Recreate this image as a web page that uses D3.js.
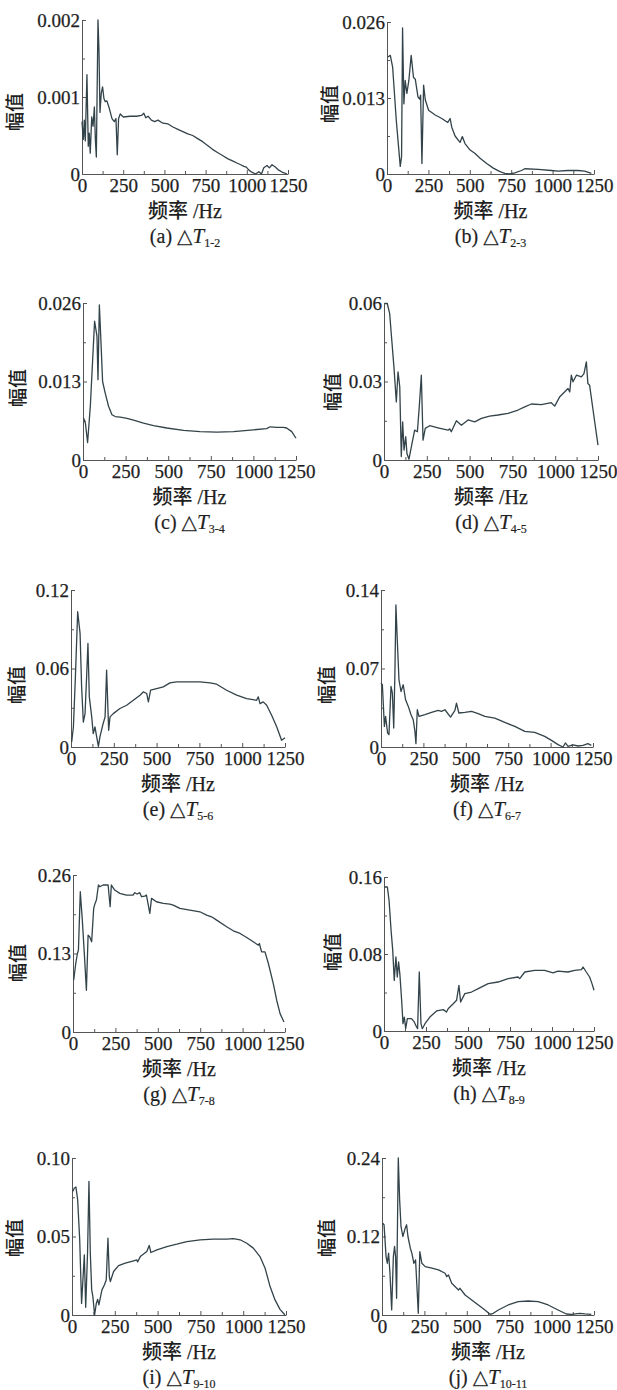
<!DOCTYPE html>
<html>
<head>
<meta charset="utf-8">
<script src="https://cdn.jsdelivr.net/npm/d3@7"></script>
<style>
  body { margin: 0; background: #fff; }
  svg { display: block; }
</style>
</head>
<body>
<svg id="fig" width="617" height="1390"></svg>
<script>
// Frequency axis ticks shared by every panel (Hz)
const X_TICKS = [0, 250, 500, 750, 1000, 1250];
const X_MINOR = [125, 375, 625, 875, 1125];

// Amplitude spectra of the temperature differences, [frequency Hz, amplitude]
const specT1_2 = [[0,0.00068],[8,0.00045],[14,0.0007],[20,0.00043],[30,0.00129],[38,0.00036],[44,0.00053],[50,0.00027],[59,0.00074],[67,0.00062],[75,0.00087],[81,0.00045],[87,0.00022],[97,0.002],[103,0.0016],[109,0.0008],[117,0.00105],[125,0.00113],[133,0.00098],[141,0.00094],[151,0.00095],[166,0.00085],[182,0.00072],[196,0.00068],[206,0.00072],[214,0.00025],[222,0.00072],[232,0.00078],[251,0.00074],[291,0.00075],[331,0.00075],[361,0.00076],[375,0.00079],[387,0.00073],[401,0.00075],[421,0.0007],[441,0.00068],[461,0.0007],[491,0.00066],[522,0.00065],[552,0.00061],[582,0.00058],[612,0.00055],[642,0.00052],[672,0.0005],[702,0.00046],[732,0.00042],[762,0.00037],[792,0.00032],[822,0.00028],[853,0.00024],[883,0.0002],[913,0.00017],[943,0.00014],[963,0.00012],[983,0.0001],[997,0.00009],[1013,0.00005],[1033,0.00002],[1053,0],[1073,0.00003],[1089,0],[1103,0.00008],[1123,0.00011],[1137,0.00008],[1153,0.00012],[1173,0.00009],[1194,0.00005],[1218,0.00002],[1244,0]];

const specT2_3 = [[6,0.020],[20,0.0203],[34,0.0183],[56,0.0092],[80,0.0013],[88,0.003],[94,0.025],[102,0.012],[110,0.016],[120,0.0138],[132,0.016],[146,0.0203],[160,0.0165],[171,0.0162],[187,0.0132],[197,0.0128],[203,0.0135],[211,0.0018],[221,0.0152],[231,0.0127],[251,0.0109],[291,0.0101],[331,0.0095],[367,0.0088],[381,0.0095],[391,0.008],[411,0.0065],[441,0.0054],[455,0.0064],[471,0.0052],[502,0.0041],[532,0.0035],[562,0.0027],[602,0.0018],[642,0.001],[682,0.0004],[712,0.0001],[742,0],[772,0.0002],[812,0.0006],[832,0.0009],[913,0.0008],[993,0.0006],[1033,0.0005],[1093,0.0006],[1153,0.0006],[1194,0.0005],[1234,0.0001]];

const specT3_4 = [[4,0.0069],[14,0.0061],[27,0.0029],[43,0.0089],[68,0.023],[82,0.0205],[88,0.0133],[96,0.0257],[107,0.0185],[115,0.013],[131,0.011],[150,0.0089],[170,0.0075],[189,0.0072],[219,0.0071],[258,0.0069],[297,0.0066],[355,0.0061],[414,0.0057],[492,0.0053],[590,0.0049],[687,0.0047],[785,0.0046],[883,0.0047],[1000,0.005],[1078,0.0052],[1098,0.0055],[1137,0.0054],[1176,0.0054],[1195,0.0053],[1225,0.0047],[1250,0.0036]];

const specT4_5 = [[4,0.0598],[19,0.0598],[33,0.056],[47,0.0445],[58,0.0356],[72,0.0222],[82,0.0337],[92,0.028],[101,0.0013],[109,0.0146],[117,0.0038],[127,0.0089],[134,0.0025],[146,0.0003],[160,0.0051],[179,0.0114],[195,0.0108],[206,0.0203],[218,0.0324],[228,0.0076],[241,0.0121],[267,0.0131],[315,0.0123],[374,0.0114],[384,0.0119],[393,0.0108],[423,0.015],[452,0.0133],[491,0.0153],[530,0.0146],[569,0.0159],[617,0.0168],[666,0.0172],[724,0.0178],[783,0.0191],[822,0.0203],[861,0.0214],[919,0.0212],[977,0.0219],[997,0.0206],[1027,0.0242],[1075,0.0273],[1085,0.026],[1094,0.0324],[1104,0.0299],[1124,0.0324],[1153,0.0318],[1168,0.033],[1182,0.0375],[1191,0.0292],[1201,0.0286],[1221,0.0191],[1250,0.0057]];

const specT5_6 = [[4,0.0038],[14,0.0153],[25,0.051],[39,0.1034],[53,0.0868],[62,0.046],[72,0.0191],[82,0.0255],[92,0.0562],[99,0.0791],[107,0.0383],[121,0.023],[130,0.0102],[140,0.0153],[150,0.0077],[160,0.0005],[169,0.0077],[185,0.0166],[199,0.023],[208,0.0587],[220,0.0128],[228,0.023],[247,0.0255],[286,0.0294],[325,0.0319],[364,0.0357],[403,0.0396],[422,0.0421],[442,0.0409],[452,0.0345],[465,0.0434],[500,0.0447],[539,0.046],[578,0.049],[617,0.0498],[676,0.0498],[753,0.0498],[812,0.049],[851,0.048],[909,0.0434],[968,0.0396],[1026,0.037],[1084,0.0357],[1094,0.0383],[1104,0.0332],[1123,0.0345],[1143,0.0319],[1172,0.0243],[1202,0.0153],[1230,0.0051],[1250,0.0071]];

const specT6_7 = [[0,0.057],[8,0.0555],[20,0.0184],[27,0.0273],[39,0.0125],[47,0.011],[59,0.054],[67,0.048],[75,0.0169],[82,0.0658],[88,0.1267],[96,0.0955],[106,0.0599],[118,0.0495],[131,0.0555],[145,0.0421],[161,0.0362],[177,0.0288],[190,0.0243],[200,0.0139],[206,0.003],[214,0.0332],[224,0.0273],[259,0.0288],[298,0.0308],[337,0.0326],[357,0.0317],[377,0.0332],[410,0.0267],[436,0.0326],[445,0.0392],[459,0.0303],[494,0.0308],[534,0.0317],[573,0.0297],[612,0.0273],[671,0.0258],[730,0.0219],[789,0.0184],[848,0.0139],[906,0.013],[965,0.0095],[1005,0.0059],[1044,0.0021],[1073,0],[1087,0.0036],[1103,0.0006],[1132,0.0018],[1162,0.0009],[1191,0.0015],[1220,0.003],[1240,0.0015]];

const specT7_8 = [[4,0.0857],[16,0.113],[26,0.13],[32,0.1355],[43,0.2323],[55,0.1853],[69,0.119],[79,0.0691],[89,0.1604],[98,0.1577],[110,0.1494],[122,0.2047],[130,0.213],[138,0.2185],[150,0.2434],[158,0.2406],[177,0.2434],[207,0.2434],[219,0.2075],[226,0.2434],[246,0.2351],[276,0.2296],[315,0.2268],[354,0.2268],[364,0.2307],[378,0.2285],[394,0.2307],[404,0.224],[423,0.2251],[433,0.2268],[453,0.1964],[463,0.2213],[492,0.2157],[532,0.213],[571,0.2119],[591,0.2102],[630,0.2047],[689,0.2019],[748,0.1991],[788,0.1936],[817,0.1908],[847,0.1853],[906,0.1743],[945,0.1676],[985,0.1632],[1024,0.1566],[1063,0.1494],[1093,0.1438],[1099,0.1466],[1112,0.1328],[1132,0.1328],[1152,0.1134],[1181,0.0802],[1201,0.0526],[1221,0.0304],[1244,0.0166]];

const specT8_9 = [[2,0.1496],[20,0.1496],[30,0.1358],[42,0.1046],[52,0.0838],[61,0.0526],[71,0.0769],[79,0.0561],[87,0.0717],[95,0.0578],[105,0.0319],[113,0.0076],[121,0.0145],[129,0.0024],[139,0.0128],[164,0.0128],[180,0.0094],[194,0.0042],[200,0.0024],[210,0.0613],[220,0.0076],[228,0.0024],[244,0.0076],[273,0.0145],[313,0.0208],[353,0.0222],[372,0.0197],[382,0.0232],[412,0.0284],[432,0.0319],[446,0.0474],[456,0.0301],[481,0.0388],[521,0.0405],[561,0.044],[620,0.0492],[679,0.0509],[739,0.0544],[798,0.0561],[808,0.0544],[838,0.0613],[897,0.063],[956,0.063],[1006,0.0603],[1036,0.0623],[1095,0.0613],[1135,0.063],[1175,0.0637],[1185,0.0665],[1204,0.0613],[1224,0.0561],[1238,0.0492],[1250,0.0423]];

const specT9_10 = [[4,0.0787],[14,0.0809],[23,0.0815],[33,0.0734],[45,0.0479],[56,0.0074],[66,0.0266],[72,0.0383],[80,0.0049],[91,0.0404],[99,0.0851],[107,0.0394],[115,0.016],[122,0.0117],[132,0],[142,0.0074],[150,0.01],[157,0.0064],[175,0.016],[189,0.0191],[200,0.0223],[210,0.0489],[218,0.0245],[224,0.0213],[243,0.0277],[272,0.0315],[311,0.033],[360,0.0345],[379,0.0351],[383,0.0338],[399,0.0372],[437,0.0404],[451,0.0443],[461,0.0398],[496,0.0415],[554,0.0436],[612,0.0451],[671,0.0468],[748,0.0479],[826,0.0483],[904,0.0483],[943,0.0487],[982,0.0479],[1021,0.0457],[1059,0.0426],[1098,0.0372],[1128,0.0298],[1157,0.0181],[1186,0.0096],[1215,0.0036],[1244,0]];

const specT10_11 = [[4,0.1404],[12,0.1379],[24,0.0894],[31,0.0791],[39,0.0945],[47,0.0638],[57,0.0077],[67,0.0894],[74,0.1047],[80,0.0894],[86,0.0255],[96,0.24],[104,0.1762],[112,0.1353],[123,0.12],[137,0.1328],[145,0.1379],[153,0.12],[167,0.1021],[176,0.0945],[188,0.0791],[198,0.0843],[204,0.0536],[214,0.0026],[223,0.097],[235,0.0791],[255,0.074],[294,0.0715],[333,0.0689],[372,0.0638],[382,0.0587],[392,0.0613],[411,0.0485],[451,0.0383],[460,0.0408],[490,0.0306],[529,0.023],[568,0.0153],[607,0.0077],[637,0.001],[656,0.0026],[686,0.0077],[744,0.0153],[803,0.0204],[862,0.0214],[921,0.0204],[980,0.0153],[1038,0.0077],[1087,0.0015],[1117,0.001],[1166,0.0026],[1195,0.0018],[1234,0.001]];

// Y-axis maxima and tick labels
const yMaxima = [0.002, 0.026, 0.026, 0.06, 0.12, 0.14, 0.26, 0.16, 0.10, 0.24];
const yTickLabels = [
  ["0", "0.001", "0.002"],
  ["0", "0.013", "0.026"],
  ["0", "0.013", "0.026"],
  ["0", "0.03", "0.06"],
  ["0", "0.06", "0.12"],
  ["0", "0.07", "0.14"],
  ["0", "0.13", "0.26"],
  ["0", "0.08", "0.16"],
  ["0", "0.05", "0.10"],
  ["0", "0.12", "0.24"]
];

// Caption letters and subscripts
const panelLetters = ["a", "b", "c", "d", "e", "f", "g", "h", "i", "j"];
const panelSubs = ["1-2", "2-3", "3-4", "4-5", "5-6", "6-7", "7-8", "8-9", "9-10", "10-11"];
const panelSeries = [specT1_2, specT2_3, specT3_4, specT4_5, specT5_6, specT6_7, specT7_8, specT8_9, specT9_10, specT10_11];

// Plot frames on the page: left/right = 0 and 1250 Hz, top/bottom = max and 0
const frames = [
  { left: 82,  right: 288, top: 20,   bottom: 174,  ylx: 15,  yly: 112 },
  { left: 387, right: 594, top: 22,   bottom: 174,  ylx: 330, yly: 104 },
  { left: 83,  right: 296, top: 303,  bottom: 460,  ylx: 18,  yly: 388 },
  { left: 384, right: 598, top: 303,  bottom: 460,  ylx: 333, yly: 392 },
  { left: 71,  right: 285, top: 590,  bottom: 747,  ylx: 17,  yly: 685 },
  { left: 381, right: 593, top: 590,  bottom: 747,  ylx: 327, yly: 685 },
  { left: 73,  right: 285, top: 875,  bottom: 1032, ylx: 18,  yly: 963 },
  { left: 384, right: 594, top: 877,  bottom: 1031, ylx: 333, yly: 952 },
  { left: 72,  right: 286, top: 1158, bottom: 1315, ylx: 15,  yly: 1238 },
  { left: 382, right: 594, top: 1158, bottom: 1315, ylx: 327, yly: 1238 }
];

const SERIF = "'Liberation Serif', 'Times New Roman', serif";
const CJK = "'Noto Sans CJK SC', sans-serif";
const INK = "#1f1f1f";
const LINE = "#33434a";

const svg = d3.select("#fig");

panelSeries.forEach((series, i) => {
  const f = frames[i];
  const yMax = yMaxima[i];
  const x = d3.scaleLinear().domain([0, 1250]).range([f.left, f.right]);
  const y = d3.scaleLinear().domain([0, yMax]).range([f.bottom, f.top]);
  const g = svg.append("g");

  // x axis with inward ticks
  g.append("g")
    .attr("transform", `translate(0,${f.bottom})`)
    .call(d3.axisBottom(x).tickValues(X_TICKS).tickSizeInner(-4).tickSizeOuter(0)
      .tickPadding(5).tickFormat(d3.format("d")));
  g.append("g")
    .attr("transform", `translate(0,${f.bottom})`)
    .call(d3.axisBottom(x).tickValues(X_MINOR).tickSizeInner(-3).tickSizeOuter(0).tickFormat(""))
    .call(s => s.select(".domain").remove());

  // y axis with inward ticks
  g.append("g")
    .attr("transform", `translate(${f.left},0)`)
    .call(d3.axisLeft(y).tickValues([0, yMax / 2, yMax]).tickSizeInner(-4).tickSizeOuter(0)
      .tickPadding(2).tickFormat((d, k) => yTickLabels[i][k]));
  g.append("g")
    .attr("transform", `translate(${f.left},0)`)
    .call(d3.axisLeft(y).tickValues([yMax / 4, yMax * 3 / 4]).tickSizeInner(-3).tickSizeOuter(0).tickFormat(""))
    .call(s => s.select(".domain").remove());

  g.selectAll(".domain, .tick line").attr("stroke", "#555").attr("stroke-width", 1);
  g.selectAll(".tick text")
    .attr("fill", INK)
    .attr("stroke", INK)
    .attr("stroke-width", 0.25)
    .style("font-family", SERIF)
    .style("font-size", "19px");

  // spectrum trace
  g.append("path")
    .datum(series)
    .attr("fill", "none")
    .attr("stroke", LINE)
    .attr("stroke-width", 1.3)
    .attr("stroke-linejoin", "round")
    .attr("d", d3.line().x(d => x(d[0])).y(d => y(d[1])));

  // y title
  g.append("text")
    .attr("transform", `translate(${f.ylx},${f.yly}) rotate(-90)`)
    .attr("text-anchor", "middle")
    .attr("dy", "0.35em")
    .attr("fill", INK)
    .style("font-family", CJK)
    .style("font-size", "19px")
    .style("font-weight", 500)
    .text("幅值");

  const cx = (f.left + f.right) / 2;

  // x title
  const xt = g.append("text")
    .attr("x", cx)
    .attr("y", f.bottom + 44)
    .attr("text-anchor", "middle")
    .attr("fill", INK)
    .style("font-size", "20px");
  xt.append("tspan").style("font-family", CJK).style("font-weight", 500).text("频率");
  xt.append("tspan").style("font-family", SERIF).attr("stroke", INK).attr("stroke-width", 0.25).text(" /Hz");

  // caption
  const cap = g.append("text")
    .attr("x", cx)
    .attr("y", f.bottom + 69)
    .attr("text-anchor", "middle")
    .attr("fill", INK)
    .attr("stroke", INK)
    .attr("stroke-width", 0.2)
    .style("font-family", SERIF)
    .style("font-size", "20px");
  cap.append("tspan").text(`(${panelLetters[i]}) `);
  cap.append("tspan").style("font-family", "'DejaVu Sans', sans-serif").style("font-size", "20px").text("△");
  cap.append("tspan").style("font-style", "italic").style("font-size", "21px").text("T");
  cap.append("tspan").attr("dy", 4).style("font-size", "12px").text(panelSubs[i]);
});
</script>
</body>
</html>
